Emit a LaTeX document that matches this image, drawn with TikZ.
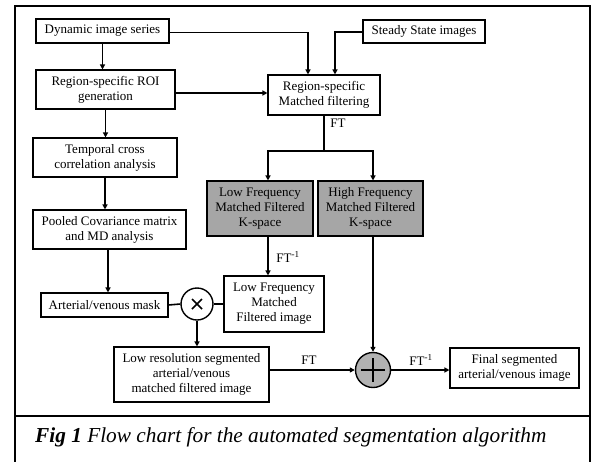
\documentclass[tikz,border=0pt]{standalone}
\usepackage{fontspec}
\setmainfont{Liberation Serif}
\usetikzlibrary{arrows.meta,calc}
\begin{document}
\begin{tikzpicture}[x=1pt,y=-1pt,
  box/.style={draw, line width=1.1pt, inner sep=0pt, align=center,
    font=\fontsize{13}{15}\selectfont},
  gbox/.style={box, fill=black!35},
  arr/.style={line width=1.6pt, -{Triangle[length=5pt,width=5pt]}},
  ln/.style={line width=1.6pt},
  lbl/.style={font=\fontsize{13}{15}\selectfont, inner sep=0pt}]
\useasboundingbox (0,0) rectangle (594,461);
% frame
\draw[line width=2pt] (14.7,470) -- (14.7,6) -- (590,6) -- (590,470);
\draw[line width=2pt] (14.7,416) -- (590,416);
% nodes
\node[box, minimum width=133pt, minimum height=24pt] (dyn) at (102.5,31) {Dynamic image series};
\node[box, minimum width=139pt, minimum height=39pt] (roi) at (105.5,89.5) {Region-specific ROI\\generation};
\node[box, minimum width=144pt, minimum height=39pt] (tcc) at (105,157.5) {Temporal cross\\correlation analysis};
\node[box, minimum width=153pt, minimum height=39pt] (pool) at (109.5,229.5) {Pooled Covariance matrix\\and MD analysis};
\node[box, minimum width=127pt, minimum height=24pt] (mask) at (104.5,305) {Arterial/venous mask};
\node[draw, circle, line width=1.4pt, minimum size=32pt, inner sep=0pt] (times) at (197,304) {};
\draw[line width=1.5pt] ($(times)+(-5,-5)$) -- ($(times)+(5,5)$);
\draw[line width=1.5pt] ($(times)+(-5,5)$) -- ($(times)+(5,-5)$);
\node[box, minimum width=100pt, minimum height=56pt] (lfimg) at (274,304) {Low Frequency\\Matched\\Filtered image};
\node[box, minimum width=155pt, minimum height=55pt] (lowres) at (191.5,374.5) {Low resolution segmented\\arterial/venous\\matched filtered image};
\node[draw, circle, fill=black!30, line width=1.4pt, minimum size=35pt, inner sep=0pt] (plus) at (373,370) {};
\draw[line width=2.2pt] ($(plus)+(-12,0)$) -- ($(plus)+(12,0)$);
\draw[line width=2.2pt] ($(plus)+(0,-12)$) -- ($(plus)+(0,12)$);
\node[box, minimum width=129pt, minimum height=40pt] (final) at (514.5,368) {Final segmented\\arterial/venous image};
\node[box, minimum width=112pt, minimum height=40pt] (mf) at (324,95) {Region-specific\\Matched filtering};
\node[box, minimum width=122pt, minimum height=23pt] (ss) at (424,31.5) {Steady State images};
\node[gbox, minimum width=106pt, minimum height=55pt] (lfk) at (260,208.5) {Low Frequency\\Matched Filtered\\K-space};
\node[gbox, minimum width=105pt, minimum height=55pt] (hfk) at (370.5,208.5) {High Frequency\\Matched Filtered\\K-space};
% coordinates
\coordinate (dyncorner) at (308,32);
\coordinate (sscorner) at (335,32);
\coordinate (branch) at (324,151);
\coordinate (poolout) at ($(pool.south)+(-1.5,0)$);
\coordinate (roiout) at ($(roi.east)+(0,3.5)$);
\coordinate (lfkout) at ($(lfk.south)+(8,0)$);
\coordinate (lfkin) at ($(lfk.north)+(8,0)$);
\coordinate (hfkin) at ($(hfk.north)+(2.5,0)$);
% connectors
\draw[arr] (dyn.south) -- (dyn.south |- roi.north);
\draw[arr] (roi.south) -- (roi.south |- tcc.north);
\draw[arr] (tcc.south) -- (tcc.south |- pool.north);
\draw[arr] (poolout) -- (poolout |- mask.north);
\draw[ln] (mask.east) -- (times.west);
\draw[ln] (times.east) -- (times.east -| lfimg.west);
\draw[arr] (times.south) -- (times.south |- lowres.north);
\draw[arr] (plus.west -| lowres.east) -- (plus.west);
\draw[arr] (plus.east) -- (plus.east -| final.west);
\draw[arr] (plus.north |- hfk.south) -- (plus.north);
\draw[arr] (roiout) -- (roiout -| mf.west);
\draw[line width=0.7pt] (dyn.east |- dyncorner) -- (dyncorner);
\draw[arr] (dyncorner) -- (dyncorner |- mf.north);
\draw[arr] (ss.west |- sscorner) -- (sscorner) -- (sscorner |- mf.north);
\draw[ln] (mf.south) -- (branch);
\draw[arr] (branch) -| (lfkin);
\draw[arr] (branch) -| (hfkin);
\draw[arr] (lfkout) -- (lfkout |- lfimg.north);
% labels
\node[lbl] (ft1) at (338,123) {FT};
\node[lbl] (ift1) at (288,257) {FT\textsuperscript{-1}};
\node[lbl] (ft2) at (309,360) {FT};
\node[lbl] (ift2) at (421,360) {FT\textsuperscript{-1}};
% caption
\node[anchor=west, inner sep=0pt, font=\fontsize{21.3}{24}\selectfont\itshape] (cap) at (35,437) {\textbf{Fig 1} Flow chart for the automated segmentation algorithm};
\end{tikzpicture}
\end{document}
